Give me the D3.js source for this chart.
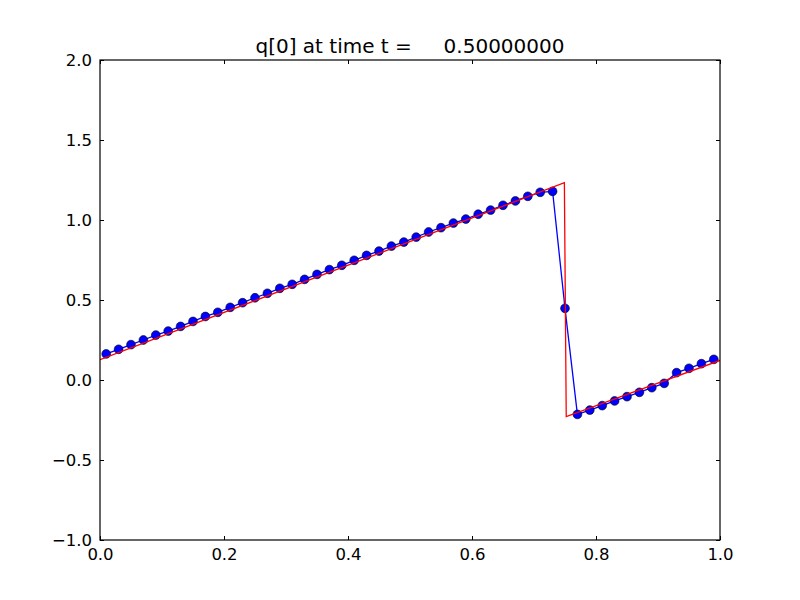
<!DOCTYPE html>
<html>
<head>
<meta charset="utf-8">
<script src="https://cdn.jsdelivr.net/npm/d3@7"></script>
<style>
  html, body { margin: 0; padding: 0; background: #ffffff; }
  svg { display: block; }
  text { font-family: "DejaVu Sans", sans-serif; }
</style>
</head>
<body>
<svg id="chart" width="800" height="600"></svg>
<script>
// ---- data ----
const titleText = "q[0] at time t =     0.50000000";
const xCells = [0.01,0.03,0.05,0.07,0.09,0.11,0.13,0.15,0.17,0.19,
                0.21,0.23,0.25,0.27,0.29,0.31,0.33,0.35,0.37,0.39,
                0.41,0.43,0.45,0.47,0.49,0.51,0.53,0.55,0.57,0.59,
                0.61,0.63,0.65,0.67,0.69,0.71,0.73,0.75,0.77,0.79,
                0.81,0.83,0.85,0.87,0.89,0.91,0.93,0.95,0.97,0.99];
const qNumeric = [0.163,0.192,0.221,0.250,0.281,0.306,0.335,0.366,0.397,0.423,
                  0.454,0.483,0.514,0.542,0.573,0.598,0.629,0.660,0.690,0.717,
                  0.748,0.779,0.806,0.837,0.862,0.893,0.925,0.952,0.981,1.006,
                  1.036,1.062,1.092,1.119,1.148,1.173,1.179,0.448,-0.215,-0.188,
                  -0.160,-0.131,-0.104,-0.077,-0.048,-0.021,0.046,0.073,0.102,0.129];
const xExact = [0.0, 0.749, 0.752, 1.0];
const qExact = [0.127, 1.233, -0.229, 0.122];
const xTicks = [0.0, 0.2, 0.4, 0.6, 0.8, 1.0];
const yTicks = [-1.0, -0.5, 0.0, 0.5, 1.0, 1.5, 2.0];

// ---- layout ----
const svg = d3.select("#chart");
const L = 100, R = 720, T = 60, B = 540;
const x = d3.scaleLinear().domain([0, 1]).range([L, R]);
const y = d3.scaleLinear().domain([-1, 2]).range([B, T]);
const fmt = v => d3.format(".1f")(v).replace("-", "\u2212");

const plot = svg.append("g");
svg.append("clipPath").attr("id", "clip")
  .append("rect").attr("x", L).attr("y", T).attr("width", R - L).attr("height", B - T);

const g = plot.append("g").attr("clip-path", "url(#clip)");

const numData = xCells.map((d, i) => [d, qNumeric[i]]);
const exData = xExact.map((d, i) => [d, qExact[i]]);
const line = d3.line().x(d => x(d[0])).y(d => y(d[1]));

g.append("path").datum(numData).attr("d", line)
  .attr("fill", "none").attr("stroke", "#0000ff").attr("stroke-width", 1.3);
g.selectAll("circle").data(numData).enter().append("circle")
  .attr("cx", d => x(d[0])).attr("cy", d => y(d[1])).attr("r", 4.4)
  .attr("fill", "#0000ff").attr("stroke", "#000000").attr("stroke-width", 0.6);
g.append("path").datum(exData).attr("d", line)
  .attr("fill", "none").attr("stroke", "#ff0000").attr("stroke-width", 1.3);

// ---- axes (matplotlib classic: inward ticks on all sides) ----
const tickLen = 4;
const axB = svg.append("g").attr("transform", `translate(0,${B})`)
  .call(d3.axisBottom(x).tickValues(xTicks).tickFormat(fmt).tickSizeInner(-tickLen).tickSizeOuter(0).tickPadding(8));
const axT = svg.append("g").attr("transform", `translate(0,${T})`)
  .call(d3.axisTop(x).tickValues(xTicks).tickFormat("").tickSizeInner(-tickLen).tickSizeOuter(0));
const axL = svg.append("g").attr("transform", `translate(${L},0)`)
  .call(d3.axisLeft(y).tickValues(yTicks).tickFormat(fmt).tickSizeInner(-tickLen).tickSizeOuter(0).tickPadding(8));
const axR = svg.append("g").attr("transform", `translate(${R},0)`)
  .call(d3.axisRight(y).tickValues(yTicks).tickFormat("").tickSizeInner(-tickLen).tickSizeOuter(0));
[axB, axT, axL, axR].forEach(a => {
  a.select(".domain").remove();
  a.selectAll("line").attr("stroke", "#000").attr("stroke-width", 1);
  a.selectAll("text").attr("fill", "#000").style("font-size", "16.5px").style("font-family", "DejaVu Sans, sans-serif");
});
axB.selectAll("text").attr("dy", "0.71em");

svg.append("rect").attr("x", L).attr("y", T).attr("width", R - L).attr("height", B - T)
  .attr("fill", "none").attr("stroke", "#000").attr("stroke-width", 1.2);

svg.append("text").attr("x", (L + R) / 2).attr("y", 53)
  .attr("text-anchor", "middle").style("font-size", "20px").style("white-space", "pre")
  .attr("xml:space", "preserve").attr("fill", "#000").text(titleText);
</script>
</body>
</html>
